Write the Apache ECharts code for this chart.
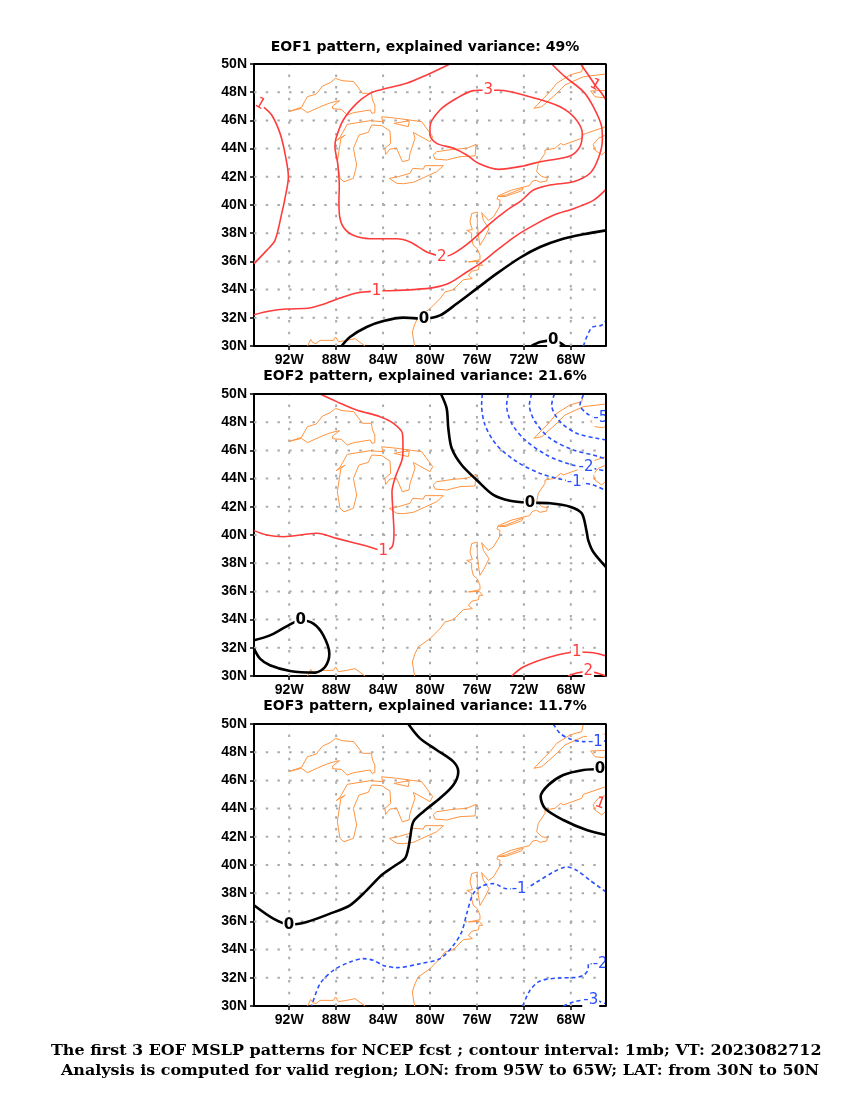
<!DOCTYPE html>
<html>
<head>
<meta charset="utf-8">
<script src="https://cdn.jsdelivr.net/npm/echarts@6/dist/echarts.min.js"></script>
<style>html,body{margin:0;padding:0;background:#fff}</style>
</head>
<body>
<div id="container" style="width:850px;height:1100px"></div>
<script>
// tick positions (degrees)
const lonTicks = [-92, -88, -84, -80, -76, -72, -68];
const latTicks = [32, 34, 36, 38, 40, 42, 44, 46, 48];

const titles = ['EOF1 pattern, explained variance: 49%', 'EOF2 pattern, explained variance: 21.6%', 'EOF3 pattern, explained variance: 11.7%'];
const footer1 = 'The first 3 EOF MSLP patterns for NCEP fcst ; contour interval: 1mb; VT: 2023082712';
const footer2 = 'Analysis is computed for valid region; LON: from 95W to 65W; LAT: from 30N to 50N';

// coastlines, lon/lat
const superior = [[-92,46.64],[-90.95,46.93],[-90.45,47.68],[-89.7,47.87],[-89.15,48.44],[-88.5,48.68],[-88.05,48.98],[-87.5,48.82],[-86.5,48.75],[-85.75,47.92],[-85,47.92],[-84.9,47.45],[-84.7,47.09],[-84.7,46.55],[-84.55,46.5],[-84.95,46.5],[-85.1,46.74],[-86.5,46.55],[-87.05,46.38],[-87.55,46.78],[-88.3,46.83],[-88.3,47.02],[-87.7,47.4],[-88.45,47.26],[-89.2,47.02],[-90.45,46.55],[-90.95,46.85],[-92,46.64]];
const michiganHuron = [[-87.67,41.89],[-87.9,43.07],[-87.59,44.73],[-87.22,44.96],[-88.01,44.56],[-87.67,44.8],[-87.05,45.72],[-85.11,45.98],[-84.03,45.91],[-84.12,46.26],[-82.84,46.15],[-80.71,45.91],[-79.77,44.85],[-80,44.49],[-81.42,45.15],[-81.28,44.73],[-81.7,43.66],[-81.79,43.19],[-82.36,43.07],[-82.84,44.02],[-83.41,43.97],[-83.78,43.59],[-83.84,44.02],[-83.35,44.37],[-83.41,45.25],[-84.12,45.63],[-84.97,45.67],[-85.26,45.15],[-86.05,44.96],[-86.53,44.02],[-86.25,42.84],[-86.53,41.89],[-87.33,41.65],[-87.67,41.89]];
const georgian = [[-83.07,45.79],[-81.76,45.98],[-81.85,45.56],[-83.07,45.79]];
const erie = [[-83.47,41.89],[-82.7,42.01],[-81.7,42.25],[-81.48,42.6],[-80.57,42.55],[-80.43,42.79],[-78.86,42.79],[-79.43,42.36],[-81.42,41.61],[-82.27,41.51],[-82.84,41.54],[-83.47,41.89]];
const ontario = [[-79.72,43.55],[-79.43,43.78],[-78.01,43.95],[-76.87,44.02],[-76.08,44.3],[-76.16,43.48],[-77.44,43.43],[-78.58,43.19],[-79.57,43.26],[-79.72,43.55]];
const stLawrence = [[-66.93,50],[-67.07,49.46],[-68.07,49.22],[-69.2,48.63],[-69.77,48.04],[-71.14,46.86],[-70.48,46.97],[-69.35,47.8],[-68.5,48.51],[-66.93,49.1],[-65,49.29]];
const anticosti = [[-65,48.12],[-66.31,48.09],[-65.94,47.68],[-65.23,47.61],[-65,47.75]];
const novaScotia = [[-65,44.96],[-65.65,44.73],[-66.08,44.3],[-65.94,43.9],[-65.37,43.55],[-65,43.83]];
const longIsland = [[-74.18,40.6],[-73.5,40.72],[-72.05,41.2],[-72.2,41],[-73.6,40.6],[-74.18,40.6]];
const eastCoast = [[-65,45.56],[-66.93,45.01],[-67.07,44.73],[-68.64,44.26],[-68.86,44.37],[-69.35,44.02],[-70.2,43.9],[-70.2,43.66],[-70.77,42.96],[-70.91,42.36],[-70.48,42.01],[-70,41.94],[-70.06,41.7],[-70.62,41.61],[-70.91,41.75],[-71.25,41.7],[-71.53,41.37],[-71.9,41.3],[-73.04,41.06],[-74.18,40.66],[-74.3,40.43],[-74.03,40.33],[-74.09,39.86],[-74.6,39.15],[-75.03,38.91],[-75.6,39.46],[-75.45,38.91],[-74.97,38.32],[-75.31,37.73],[-75.74,37.14],[-75.88,37.85],[-75.97,38.68],[-75.97,39.5],[-76.45,39.39],[-76.59,38.79],[-76.39,38.25],[-76.87,38.2],[-76.45,38.01],[-76.45,37.61],[-76.31,37.14],[-75.97,36.9],[-75.74,36.43],[-75.74,36.12],[-76.73,35.96],[-75.8,36],[-75.51,35.72],[-75.8,35.72],[-75.88,35.41],[-76.45,35.3],[-76.73,35.01],[-76.39,34.78],[-77.16,34.7],[-78.01,34],[-78.72,33.83],[-79.15,33.36],[-80,32.65],[-81,32.06],[-81.28,31.58],[-81.51,30.99],[-81.31,30]];
const gulfCoast = [[-90.43,30],[-90.17,30.47],[-90,30.24],[-89.72,30.17],[-89.37,30.4],[-88.24,30.4],[-88.04,30.64],[-87.81,30.31],[-87.1,30.4],[-86.39,30.52],[-85.54,30]];
const coasts = [superior, michiganHuron, georgian, erie, ontario, stLawrence, anticosti, novaScotia, longIsland, eastCoast, gulfCoast];

// EOF1 contours
const eof1Pos3 = [[-75.03,48.16],[-76.31,48.11],[-77.73,47.57],[-79.15,46.74],[-80,45.56],[-80,44.96],[-79.43,44.37],[-78.01,44.02],[-76.87,43.55],[-75.88,42.96],[-74.18,42.53],[-72.05,42.77],[-70.62,43.07],[-68.07,43.48],[-67.22,44.14],[-67.02,45.08],[-67.64,46.15],[-68.92,46.97],[-71.19,47.61],[-73.47,48.09],[-75.03,48.16]];
const eof1Pos2 = [[-78.3,50],[-80.28,49.22],[-81.99,48.63],[-84.26,48.16],[-85.11,47.92],[-86.25,47.21],[-87.39,46.03],[-88.01,44.73],[-88.1,44.14],[-87.87,42.96],[-87.73,41.3],[-87.76,40.33],[-87.73,39.39],[-87.39,38.44],[-86.53,37.85],[-85.11,37.61],[-82.84,37.61],[-81.7,37.38],[-80.28,36.67],[-79.43,36.43],[-79,36.31],[-78.01,36.55],[-76.59,37.38],[-74.89,38.68],[-73.47,39.62],[-72.19,40.33],[-71.19,41.06],[-69.77,41.42],[-67.78,41.65],[-66.36,42.25],[-65.65,43.31],[-65.31,44.61],[-65.37,45.56],[-66.08,46.97],[-66.93,48.04],[-68.5,49.1],[-69.63,50]];
const eof1Pos1a = [[-94.15,46.93],[-93.49,46.38],[-92.78,45.08],[-92.36,43.66],[-92.07,42.01],[-92.36,40.47],[-92.64,39.39],[-93.21,37.49],[-93.92,36.78],[-95,35.84]];
const eof1Pos1b = [[-67.16,50],[-66.22,48.87],[-65.94,48.51],[-65.37,47.92],[-65,47.45]];
const eof1Pos1c = [[-95,32.22],[-93.64,32.48],[-92.22,32.62],[-90.23,32.7],[-89.09,32.96],[-87.67,33.4],[-86.25,33.76],[-84.55,33.9],[-83.41,33.92],[-81.42,34],[-79.72,34.14],[-78.3,34.49],[-76.87,35.25],[-75.74,35.84],[-74.32,36.78],[-72.61,37.85],[-70.91,38.68],[-69.49,39.27],[-67.78,39.74],[-66.08,40.33],[-65,41.11]];
const eof1Zero1 = [[-87.53,30],[-86.82,30.64],[-85.4,31.35],[-83.98,31.77],[-82.27,32.01],[-80.57,31.94],[-79.15,32.17],[-77.73,33],[-76.02,34.07],[-74.32,35.13],[-72.33,36.26],[-70.62,37.02],[-68.92,37.54],[-66.93,37.92],[-65,38.2]];
const eof1Zero2 = [[-71.34,30],[-70.62,30.28],[-69.49,30.4],[-68.5,30]];
const eof1Neg1 = [[-66.93,30],[-66.22,31.3],[-65.37,31.47],[-65,31.82]];
const eof1Labels = [['3',-75.03,48.16,0],['2',-79,36.31,0],['1',-84.55,33.9,0],['0',-80.51,31.94,0],['0',-69.49,30.4,0],['1',-94.49,47.16,-30],['1',-65.94,48.51,-30]];

// EOF2 contours
const eof2Pos1a = [[-89.37,50],[-87.95,49.46],[-86.25,48.87],[-84.26,48.39],[-83.12,47.92],[-82.35,47.2],[-82.3,46.03],[-82.39,45.32],[-82.98,44.04],[-83.24,43.05],[-83.15,41.56],[-83.07,40.14],[-83.24,39.15],[-83.98,38.9],[-85.4,39.22],[-87.95,39.76],[-89.66,40.12],[-92.5,39.88],[-93.92,40],[-95,40.31]];
const eof2Pos1b = [[-73.04,30],[-72.05,30.64],[-69.77,31.35],[-67.5,31.7],[-66.08,31.65],[-65,31.42]];
const eof2Pos2 = [[-68.21,30],[-67.5,30.21],[-66.51,30.33],[-65,30]];
const eof2Zero1 = [[-79.06,50],[-78.58,48.98],[-78.44,47.57],[-78.15,46.15],[-77.3,44.96],[-76.02,43.9],[-74.6,42.84],[-73.18,42.43],[-71.48,42.29],[-69.77,42.25],[-68.07,42.01],[-67.07,41.54],[-66.65,40.24],[-66.51,39.62],[-66.08,38.79],[-65,37.73]];
const eof2Zero2 = [[-95,32.53],[-93.64,32.88],[-92.22,33.52],[-91.02,33.95],[-89.94,33.71],[-89.09,32.88],[-88.58,31.58],[-88.95,30.64],[-89.8,30.24],[-91.93,30.35],[-93.64,30.76],[-94.49,31.23],[-95,31.94]];
const eof2Neg1 = [[-75.54,50],[-75.6,49.22],[-75.31,47.8],[-74.32,46.38],[-72.61,45.2],[-70.62,44.37],[-68.92,43.97],[-67.5,43.74],[-66.08,43.55],[-65,43.14]];
const eof2Neg2 = [[-73.32,50],[-73.47,49.22],[-73.04,47.92],[-71.9,46.74],[-70.06,45.67],[-68.07,45.01],[-66.51,44.78],[-65,44.54]];
const eof2Neg3 = [[-71.34,50],[-71.53,49.22],[-71.05,48.04],[-69.77,46.86],[-67.78,46.03],[-66.08,45.67],[-65,45.39]];
const eof2Neg4 = [[-69.4,50],[-69.63,49.22],[-68.92,48.04],[-67.5,47.21],[-65.8,46.86],[-65,46.74]];
const eof2Neg5 = [[-66.93,49.93],[-67.22,49.22],[-66.65,48.63],[-65.8,48.27],[-65,48.04]];
const eof2Labels = [['1',-83.98,38.84,0],['0',-71.48,42.29,0],['-1',-67.7,43.74,0],['-2',-66.7,44.78,0],['-5',-65.45,48.27,0],['0',-91.02,33.95,0],['1',-67.5,31.7,0],['2',-66.51,30.33,0]];

// EOF3 contours
const eof3Zero1 = [[-81.85,50],[-80.85,48.98],[-79.43,48.16],[-78.01,47.33],[-77.59,46.62],[-78.01,45.67],[-79.15,44.73],[-80.57,43.78],[-81.42,43.07],[-81.7,41.89],[-81.85,41.18],[-82.13,40.47],[-83.12,39.88],[-84.12,39.29],[-85.4,38.2],[-86.82,37.14],[-88.52,36.55],[-90.51,35.96],[-92.02,35.77],[-93.35,36.19],[-95,37.14]];
const eof3Zero2 = [[-65.51,46.81],[-66.93,46.74],[-68.64,46.38],[-69.91,45.67],[-70.57,44.85],[-70.2,44.02],[-68.64,43.19],[-66.65,42.48],[-65,42.13]];
const eof3Neg1a = [[-69.49,50],[-68.92,49.34],[-68.07,48.94],[-66.93,48.75],[-65,48.79]];
const eof3Neg1b = [[-65,38.09],[-66.36,38.91],[-67.5,39.62],[-68.35,39.86],[-69.49,39.5],[-70.91,38.79],[-72.05,38.32],[-73.47,38.32],[-74.6,38.68],[-75.6,38.49],[-76.31,37.97],[-76.87,36.55],[-77.3,35.25],[-78.01,34.3],[-79.15,33.36],[-80.85,33],[-82.84,32.72],[-83.98,32.88],[-84.83,33.24],[-85.68,33.36],[-86.82,33.12],[-88.24,32.53],[-89.37,31.58],[-90.09,30]];
const eof3Neg2 = [[-72.1,30],[-71.48,31.11],[-70.62,31.77],[-68.92,31.99],[-67.78,32.01],[-66.93,32.17],[-66.51,32.65],[-66.51,33],[-65,33]];
const eof3Neg3 = [[-68.64,30],[-67.78,30.28],[-66.93,30.4],[-66,30.4],[-65,30.17]];
const eof3Labels = [['0',-92.02,35.77,0],['0',-65.51,46.81,0],['-1',-65.9,48.75,0],['1',-65.51,44.37,-20],['-1',-72.4,38.32,0],['-2',-65.5,33,0],['-3',-66.3,30.4,0]];

const panels = [
    { red: [eof1Pos3, eof1Pos2, eof1Pos1a, eof1Pos1b, eof1Pos1c], black: [eof1Zero1, eof1Zero2], blue: [eof1Neg1], labels: eof1Labels },
    { red: [eof2Pos1a, eof2Pos1b, eof2Pos2], black: [eof2Zero1, eof2Zero2], blue: [eof2Neg1, eof2Neg2, eof2Neg3, eof2Neg4, eof2Neg5], labels: eof2Labels },
    { red: [], black: [eof3Zero1, eof3Zero2], blue: [eof3Neg1a, eof3Neg1b, eof3Neg2, eof3Neg3], labels: eof3Labels }
];

const RED = '#ff3c3c', BLUE = '#2a50ff', ORANGE = '#ff9440', GRID = '#aaaaaa';
const tickFont = { color: '#000', fontFamily: 'Liberation Sans', fontSize: 14, fontWeight: 'bold' };
const tickLine = { show: true, length: 4, lineStyle: { color: '#000', width: 1.5 } };
const gridTops = [64, 394, 724];
const titleTops = [35, 364, 694];

var myChart = echarts.init(document.getElementById('container'), null, { renderer: 'canvas' });

var grid = [], xAxis = [], yAxis = [], series = [], title = [];

function plain(i, data, color, width, dash, smooth, z) {
    series.push({
        type: 'line', xAxisIndex: i, yAxisIndex: i, data: data, showSymbol: false, symbol: 'none',
        smooth: smooth, silent: true, z: z, animation: false,
        lineStyle: { color: color, width: width, type: dash }
    });
}

panels.forEach(function (p, i) {
    grid.push({ left: 254, top: gridTops[i], width: 352, height: 282 });
    xAxis.push({
        type: 'value', gridIndex: i, min: -95, max: -65,
        axisLine: { onZero: false, lineStyle: { color: '#000', width: 2 } },
        axisTick: { ...tickLine, customValues: lonTicks },
        splitLine: { show: false },
        axisLabel: { customValues: lonTicks, margin: 7, formatter: v => Math.abs(v) + 'W', ...tickFont }
    });
    yAxis.push({
        type: 'value', gridIndex: i, min: 30, max: 50, interval: 2,
        axisLine: { lineStyle: { color: '#000', width: 2 } },
        axisTick: tickLine, splitLine: { show: false },
        axisLabel: { margin: 7, formatter: v => v + 'N', ...tickFont }
    });
    // frame on the top and right sides
    plain(i, [[-95, 50], [-65, 50], [-65, 30]], '#000', 2, 'solid', false, 6);
    lonTicks.forEach(lon => plain(i, [[lon, 30], [lon, 50]], GRID, 2, [2.5, 9.2], false, 1));
    latTicks.forEach(lat => plain(i, [[-95, lat], [-65, lat]], GRID, 2, [2.5, 9.2], false, 1));
    coasts.forEach(c => plain(i, c, ORANGE, 1, 'solid', false, 2));
    p.red.forEach(c => plain(i, c, RED, 1.6, 'solid', 0.3, 3));
    p.black.forEach(c => plain(i, c, '#000', 2.6, 'solid', 0.3, 3));
    p.blue.forEach(c => plain(i, c, BLUE, 1.6, [4, 3], 0.3, 3));
    series.push({
        type: 'scatter', xAxisIndex: i, yAxisIndex: i, symbolSize: 0, silent: true, z: 5, animation: false, clip: false,
        itemStyle: { opacity: 1 },
        data: p.labels.map(function (l) {
            var color = l[0] === '0' ? '#000' : (l[0][0] === '-' ? BLUE : RED);
            return {
                value: [l[1], l[2]],
                label: {
                    show: true, position: 'inside', formatter: l[0], rotate: l[3], color: color, opacity: 1,
                    fontFamily: 'DejaVu Sans', fontSize: 15, fontWeight: l[0] === '0' ? 'bold' : 'normal',
                    backgroundColor: l[3] ? 'transparent' : '#fff', padding: [0, 1]
                }
            };
        })
    });
    title.push({
        text: titles[i], left: 420, top: titleTops[i], textAlign: 'center',
        textStyle: { color: '#000', fontFamily: 'DejaVu Sans', fontSize: 14, fontWeight: 'bold' }
    });
});

// the footer font is wider than anything installed, so stretch it
const footerFont = 'bold 14px "DejaVu Serif"';
const graphic = [
    { type: 'text', x: 51, y: 1044, scaleX: 1.139, style: { text: footer1, font: footerFont, fill: '#000' } },
    { type: 'text', x: 61, y: 1064, scaleX: 1.139, style: { text: footer2, font: footerFont, fill: '#000' } }
];

myChart.setOption({ animation: false, title: title, graphic: graphic, grid: grid, xAxis: xAxis, yAxis: yAxis, series: series });
</script>
</body>
</html>
